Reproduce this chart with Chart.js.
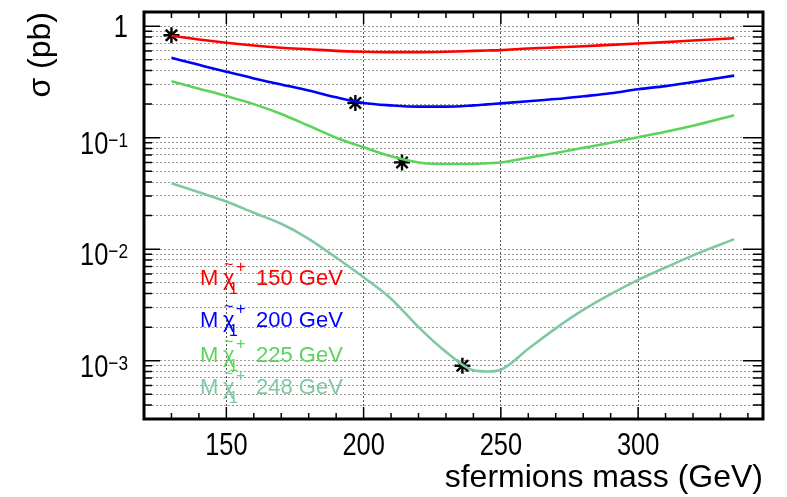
<!DOCTYPE html>
<html>
<head>
<meta charset="utf-8">
<script src="https://cdn.jsdelivr.net/npm/chart.js@4"></script>
<style>
  html, body { margin: 0; padding: 0; background: #fff; }
  #wrap { width: 787px; height: 497px; }
</style>
</head>
<body>
<div id="wrap"><canvas id="xsecChart" width="787" height="497"></canvas></div>
<script>
// sfermion masses (GeV) where the curves were read
const massGeV = [130, 140, 150, 160, 170, 180, 190, 200, 210, 220, 230, 240, 245, 250, 260, 270, 280, 290, 300, 310, 320, 335];

// cross sections (pb) for each chargino mass
const xsec150 = [0.82, 0.76, 0.71, 0.67, 0.64, 0.62, 0.60, 0.59, 0.585, 0.585, 0.59, 0.60, 0.605, 0.61, 0.63, 0.645, 0.66, 0.68, 0.70, 0.72, 0.745, 0.78];
const xsec200 = [0.52, 0.45, 0.39, 0.34, 0.30, 0.265, 0.23, 0.205, 0.195, 0.19, 0.19, 0.195, 0.199, 0.203, 0.212, 0.222, 0.235, 0.25, 0.272, 0.29, 0.315, 0.36];
const xsec225 = [0.32, 0.275, 0.236, 0.20, 0.163, 0.128, 0.10, 0.082, 0.068, 0.060, 0.058, 0.058, 0.059, 0.060, 0.066, 0.073, 0.081, 0.090, 0.101, 0.113, 0.128, 0.159];
const xsec248 = [0.039, 0.0324, 0.0268, 0.0212, 0.0169, 0.0124, 0.0084, 0.0056, 0.0036, 0.0020, 0.0012, 0.00082, 0.0008, 0.00083, 0.00128, 0.00195, 0.00285, 0.00395, 0.0053, 0.00685, 0.0088, 0.0123];

const charginoMass = ['150', '200', '225', '248'];
const lineColors = ['#ff0000', '#0000ff', '#5cd45c', '#80c8a2'];

// the marked points (stars)
const starMass = [130, 197, 214, 236];
const starXsec = [0.83, 0.205, 0.06, 0.0009];

// axis ticks
const xMajorTicks = [150, 200, 250, 300];
const yDecades = [1e-3, 1e-2, 1e-1, 1];
const yDecadeLabels = [['10', '\u22123'], ['10', '\u22122'], ['10', '\u22121'], ['1', '']];

const FONT = 'Liberation Sans, Arial, sans-serif';
const SQUEEZE = 0.82; // tick labels in the original are narrow helvetica

function pts(ys) {
    return massGeV.map((m, i) => ({ x: m, y: ys[i] }));
}

// all 1..9 x 10^n values inside the range, used for grid + minor ticks
function logTicks(min, max) {
    const out = [];
    for (let e = -4; e <= 0; e++) {
        for (let k = 1; k <= 9; k++) {
            const v = k * Math.pow(10, e);
            if (v >= min && v <= max) out.push(v);
        }
    }
    return out;
}

function narrowText(ctx, text, x, y, size) {
    ctx.save();
    ctx.font = size + 'px ' + FONT;
    ctx.translate(x, y);
    ctx.scale(SQUEEZE, 1);
    ctx.fillText(text, 0, 0);
    ctx.restore();
}
function narrowWidth(ctx, text, size) {
    ctx.save();
    ctx.font = size + 'px ' + FONT;
    const w = ctx.measureText(text).width * SQUEEZE;
    ctx.restore();
    return w;
}

const allSeries = [xsec150, xsec200, xsec225, xsec248];
const datasets = allSeries.map((ys, i) => ({
    label: 'M chi ' + charginoMass[i] + ' GeV',
    data: pts(ys),
    borderColor: lineColors[i],
    borderWidth: 2.6,
    pointRadius: 0,
    fill: false,
    cubicInterpolationMode: 'monotone'
}));
datasets.push({
    label: 'stars',
    data: starMass.map((m, i) => ({ x: m, y: starXsec[i] })),
    showLine: false,
    pointStyle: 'star',
    pointRadius: 8,
    borderColor: '#000',
    backgroundColor: '#000',
    pointBorderWidth: 2.4
});

// frame, inside ticks, tick labels and the text legend
const rootStyle = {
    id: 'rootStyle',
    afterDraw(chart) {
        const ctx = chart.ctx;
        const a = chart.chartArea;
        const xs = chart.scales.x, ys = chart.scales.y;
        ctx.save();
        ctx.strokeStyle = '#000';
        ctx.lineWidth = 1.5;
        ctx.beginPath();
        // x ticks bottom + top
        for (let m = 130; m <= 340; m += 10) {
            const px = xs.getPixelForValue(m);
            const len = (m % 50 === 0) ? 12 : 6;
            ctx.moveTo(px, a.bottom); ctx.lineTo(px, a.bottom - len);
            ctx.moveTo(px, a.top); ctx.lineTo(px, a.top + len);
        }
        // y ticks left + right
        logTicks(ys.min, ys.max).forEach(v => {
            const py = ys.getPixelForValue(v);
            const major = yDecades.includes(v);
            const lenL = major ? 16 : 8;
            const lenR = major ? 20 : 10;
            ctx.moveTo(a.left, py); ctx.lineTo(a.left + lenL, py);
            ctx.moveTo(a.right, py); ctx.lineTo(a.right - lenR, py);
        });
        ctx.stroke();

        // frame
        ctx.lineWidth = 3;
        ctx.strokeRect(a.left, a.top, a.right - a.left, a.bottom - a.top);

        ctx.fillStyle = '#000';
        ctx.textBaseline = 'alphabetic';
        // x labels
        xMajorTicks.forEach(v => {
            const px = xs.getPixelForValue(v);
            const w = narrowWidth(ctx, String(v), 31);
            narrowText(ctx, String(v), px - w / 2, a.bottom + 36, 31);
        });
        // y decade labels with superscript exponent
        yDecades.forEach((v, i) => {
            const py = ys.getPixelForValue(v);
            const [base, exp] = yDecadeLabels[i];
            const right = a.left - 16;
            if (exp) {
                const ew = narrowWidth(ctx, exp, 21);
                narrowText(ctx, exp, right - ew, py + 9, 21);
                const bw = narrowWidth(ctx, base, 31);
                narrowText(ctx, base, right - ew - bw, py + 16, 31);
            } else {
                const bw = narrowWidth(ctx, base, 31);
                narrowText(ctx, base, right - bw, py + 11, 31);
            }
        });

        // legend text
        const baselines = [285, 327, 362, 394];
        charginoMass.forEach((m, i) => {
            const x0 = a.left + 56;
            const by = baselines[i];
            ctx.fillStyle = lineColors[i];
            ctx.font = '22px ' + FONT;
            ctx.fillText('M', x0, by);
            ctx.fillText('\u03c7', x0 + 23, by);
            ctx.font = '16px ' + FONT;
            ctx.fillText('~', x0 + 24, by - 15);
            ctx.fillText('+', x0 + 36, by - 13);
            ctx.fillText('1', x0 + 29, by + 9);
            ctx.font = '22px ' + FONT;
            ctx.fillText(m + ' GeV', x0 + 56, by);
        });
        ctx.restore();
    }
};

const ctx = document.getElementById('xsecChart').getContext('2d');
const xsecChart = new Chart(ctx, {
    type: 'line',
    data: { datasets: datasets },
    options: {
        responsive: false,
        animation: false,
        layout: { padding: { left: 0, right: 24, top: 12, bottom: 0 } },
        plugins: { legend: { display: false }, tooltip: { enabled: false } },
        scales: {
            x: {
                type: 'linear',
                min: 120,
                max: 345.5,
                afterFit: s => { s.height = 78; },
                afterBuildTicks: s => { s.ticks = xMajorTicks.map(v => ({ value: v })); },
                grid: { color: '#555', lineWidth: 1, drawTicks: false },
                border: { display: false, dash: [2, 2] },
                ticks: { display: false },
                title: {
                    display: true,
                    text: 'sfermions mass (GeV)',
                    align: 'end',
                    color: '#000',
                    font: { family: FONT, size: 32 },
                    padding: { top: 0, bottom: 0 }
                }
            },
            y: {
                type: 'logarithmic',
                min: 3.3e-4,
                max: 1.34,
                afterFit: s => { s.width = 144; },
                afterBuildTicks: s => { s.ticks = logTicks(s.min, s.max).map(v => ({ value: v })); },
                grid: { color: '#999', lineWidth: 1, drawTicks: false },
                border: { display: false, dash: [2, 2] },
                ticks: { display: false },
                title: {
                    display: true,
                    text: '\u03c3 (pb)',
                    align: 'end',
                    color: '#000',
                    font: { family: FONT, size: 32 },
                    padding: { top: 22, bottom: 0 }
                }
            }
        }
    },
    plugins: [rootStyle]
});
</script>
</body>
</html>
